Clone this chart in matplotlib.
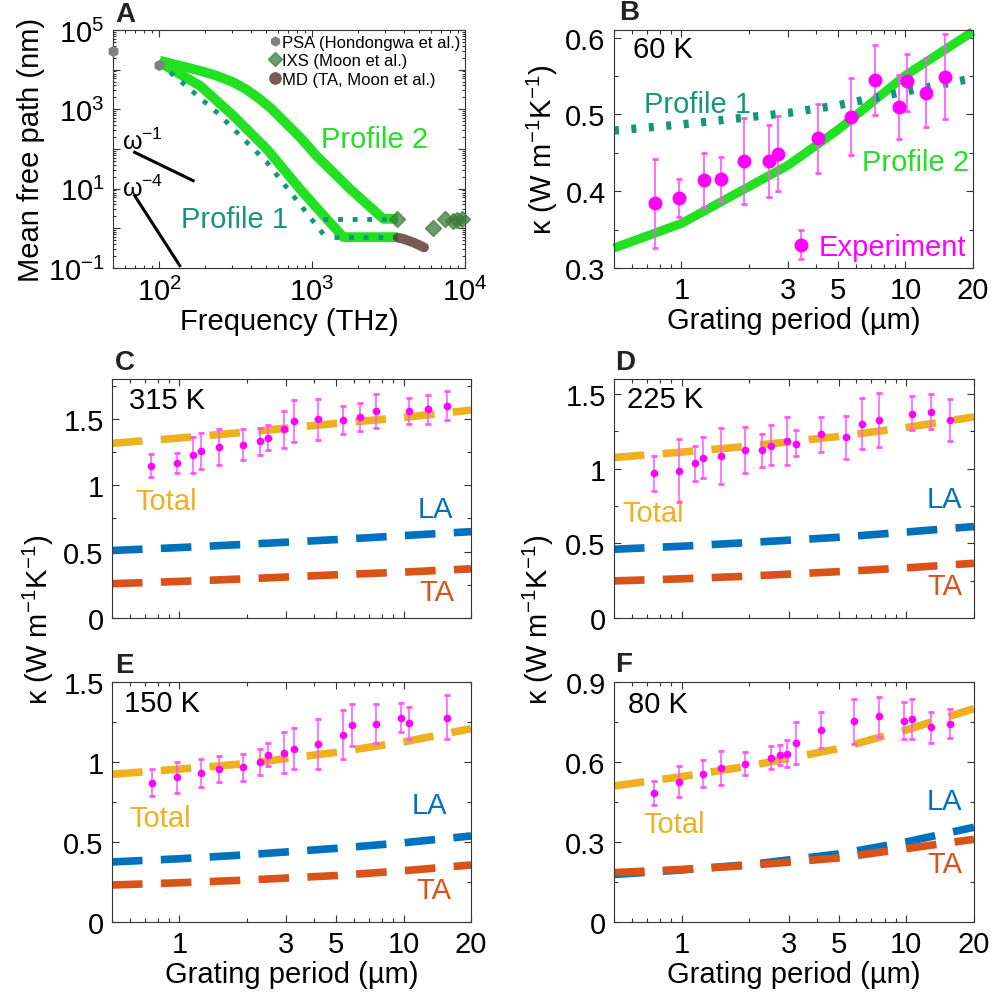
import matplotlib
matplotlib.use('Agg')
import matplotlib.pyplot as plt
from matplotlib.ticker import NullFormatter, FixedLocator, LogLocator, FixedFormatter
import numpy as np

plt.rcParams['font.family'] = ['Liberation Sans', 'DejaVu Sans']
plt.rcParams['mathtext.fontset'] = 'custom'
plt.rcParams['mathtext.rm'] = 'Liberation Sans'
plt.rcParams['mathtext.it'] = 'Liberation Sans:italic'
plt.rcParams['font.size'] = 21
plt.rcParams['axes.linewidth'] = 0.8
plt.rcParams['axes.edgecolor'] = '#333333'

# ---- colours
GREEN = '#22e022'
TEAL = '#13977a'
ORANGE = '#EDB120'
BLUE = '#0072BD'
RED = '#D95319'
MAG = '#ff00ff'

# ---- panel A: mean free path vs frequency
psa_f = [50, 100]
psa_mfp = [3.0e4, 1.3e4]
ixs_f = [3600, 6200, 7400, 8300, 8900, 9500]
ixs_mfp = [1.7, 1.0, 1.7, 1.5, 1.6, 1.7]
md_f = [3650, 3900, 4200, 4600, 5000, 5400]
md_mfp = [0.58, 0.55, 0.50, 0.44, 0.38, 0.33]
prof2_f = [101, 185, 238, 306, 374, 457, 545, 649, 835, 1070, 1770, 2925, 3650]
prof2_mfp = [1.69e4, 9.4e3, 7.06e3, 4.8e3, 3.13e3, 1.8e3, 1.02e3, 519, 198, 67, 9.9, 1.73, 1.73]
prof1_f = [101, 185, 306, 506, 832, 1247, 1603, 3650]
prof1_mfp = [1.53e4, 3.95e3, 690, 100, 9.9, 1.73, 0.6, 0.6]
dot_f = [100, 238, 506, 1250]
dot_mfp = [1.5e4, 845, 46.6, 0.55]
dot_hi_f = [1186, 3555]
dot_hi_mfp = [1.73, 1.73]
dot_lo_f = [1400, 3555]
dot_lo_mfp = [0.6, 0.6]
w1_f = [69.3, 167]
w1_mfp = [82.4, 15.9]
w4_f = [69.3, 136.5]
w4_mfp = [6.67, 0.115]

# ---- panel B: 60 K
b_x = [0.76, 0.98, 1.26, 1.5, 1.9, 2.46, 2.7, 4.05, 5.7, 7.3, 9.4, 10.2, 12.4, 15.0]
b_y = [0.385, 0.391, 0.414, 0.416, 0.439, 0.439, 0.449, 0.469, 0.497, 0.545, 0.510, 0.543, 0.528, 0.549]
b_hi = [0.442, 0.4165, 0.450, 0.445, 0.496, 0.486, 0.498, 0.514, 0.548, 0.590, 0.552, 0.579, 0.573, 0.605]
b_lo = [0.326, 0.366, 0.379, 0.387, 0.384, 0.393, 0.400, 0.424, 0.447, 0.499, 0.468, 0.504, 0.484, 0.494]
b_fit_x = [0.5, 1, 3, 5, 10, 20]
b_prof2 = [0.326, 0.358, 0.434, 0.480, 0.551, 0.608]
b_prof1 = [0.479, 0.487, 0.502, 0.512, 0.530, 0.547]

# ---- panels C-F: kappa vs grating period
fit_x = [0.5, 1, 2, 5, 10, 20]

c_x = [0.75, 0.98, 1.155, 1.25, 1.5, 1.92, 2.29, 2.49, 2.93, 3.23, 4.15, 5.38, 6.37, 7.52, 10.6, 12.9, 15.7]
c_y = [1.148, 1.168, 1.228, 1.258, 1.285, 1.305, 1.33, 1.358, 1.42, 1.483, 1.495, 1.49, 1.513, 1.558, 1.558, 1.57, 1.595]
c_hi = [1.238, 1.245, 1.363, 1.393, 1.42, 1.425, 1.43, 1.453, 1.558, 1.643, 1.65, 1.595, 1.62, 1.69, 1.655, 1.68, 1.708]
c_lo = [1.058, 1.09, 1.095, 1.125, 1.15, 1.188, 1.23, 1.263, 1.283, 1.328, 1.34, 1.388, 1.408, 1.43, 1.463, 1.463, 1.49]
c_total = [1.315, 1.355, 1.40, 1.465, 1.51, 1.565]
c_la = [0.508, 0.53, 0.555, 0.59, 0.62, 0.65]
c_ta = [0.258, 0.275, 0.295, 0.325, 0.345, 0.37]

d_x = [0.755, 0.976, 1.15, 1.25, 1.5, 1.92, 2.28, 2.49, 2.93, 3.23, 4.16, 5.38, 6.36, 7.55, 10.6, 12.9, 15.7]
d_y = [0.969, 0.987, 1.036, 1.071, 1.083, 1.121, 1.121, 1.154, 1.183, 1.167, 1.232, 1.208, 1.301, 1.324, 1.368, 1.377, 1.328]
d_hi = [1.085, 1.20, 1.152, 1.208, 1.27, 1.277, 1.23, 1.29, 1.342, 1.257, 1.348, 1.353, 1.473, 1.504, 1.487, 1.496, 1.469]
d_lo = [0.850, 0.779, 0.917, 0.9375, 0.895, 0.967, 1.013, 1.022, 1.025, 1.083, 1.114, 1.0625, 1.134, 1.145, 1.257, 1.268, 1.185]
d_total = [1.074, 1.11, 1.15, 1.215, 1.275, 1.346]
d_la = [0.46, 0.48, 0.505, 0.54, 0.575, 0.612]
d_ta = [0.248, 0.262, 0.28, 0.31, 0.335, 0.366]

e_x = [0.752, 0.98, 1.25, 1.5, 1.92, 2.29, 2.49, 2.93, 3.23, 4.15, 5.38, 5.86, 7.52, 9.77, 10.6, 15.7]
e_y = [0.869, 0.904, 0.931, 0.956, 0.967, 1.0, 1.046, 1.056, 1.083, 1.1125, 1.171, 1.233, 1.24, 1.277, 1.242, 1.277]
e_hi = [0.954, 1.002, 1.021, 1.0375, 1.052, 1.083, 1.119, 1.1875, 1.215, 1.269, 1.325, 1.365, 1.365, 1.371, 1.344, 1.417]
e_lo = [0.785, 0.806, 0.844, 0.877, 0.881, 0.919, 0.975, 0.929, 0.954, 0.954, 1.019, 1.102, 1.117, 1.19, 1.144, 1.144]
e_total = [0.923, 0.955, 0.99, 1.06, 1.125, 1.208]
e_la = [0.375, 0.395, 0.42, 0.46, 0.495, 0.5375]
e_ta = [0.231, 0.245, 0.262, 0.29, 0.32, 0.356]

f_x = [0.755, 0.976, 1.25, 1.5, 1.92, 2.49, 2.74, 2.93, 3.23, 4.16, 5.86, 7.55, 9.8, 10.6, 12.9, 15.7]
f_y = [0.485, 0.526, 0.556, 0.5775, 0.594, 0.616, 0.626, 0.631, 0.67, 0.719, 0.7525, 0.771, 0.755, 0.76, 0.73, 0.744]
f_hi = [0.53, 0.584, 0.606, 0.641, 0.6375, 0.659, 0.664, 0.6825, 0.75, 0.786, 0.835, 0.845, 0.826, 0.835, 0.7875, 0.7975]
f_lo = [0.44, 0.469, 0.505, 0.514, 0.55, 0.574, 0.589, 0.58, 0.591, 0.6525, 0.669, 0.695, 0.685, 0.6875, 0.6725, 0.689]
f_total = [0.51, 0.545, 0.585, 0.65, 0.72, 0.80]
f_la = [0.178, 0.195, 0.215, 0.255, 0.30, 0.355]
f_ta = [0.185, 0.197, 0.212, 0.24, 0.275, 0.31]

fig = plt.figure(figsize=(9.93, 10.03), dpi=100)


def style(ax):
    ax.tick_params(which='both', direction='in', top=True, right=True, width=0.8,
                   colors='#333333', labelcolor='black')
    ax.tick_params(which='major', length=5, pad=6)
    ax.tick_params(which='minor', length=3)


def gp_axis(ax, labels=True):
    ax.set_xscale('log')
    ax.set_xlim(0.5, 20)
    ax.xaxis.set_major_locator(FixedLocator([1, 3, 5, 10, 20]))
    ax.xaxis.set_minor_locator(LogLocator(base=10, subs=np.arange(2, 10), numticks=20))
    ax.xaxis.set_minor_formatter(NullFormatter())
    if labels:
        ax.xaxis.set_major_formatter(FixedFormatter(['1', '3', '5', '10', '20']))
        ax.set_xlabel('Grating period (µm)', labelpad=1)
    else:
        ax.xaxis.set_major_formatter(NullFormatter())


# ---------------- A
axA = fig.add_axes([0.1138, 0.7318, 0.3545, 0.2373])
axA.set_xscale('log')
axA.set_yscale('log')
axA.plot(prof2_f, prof2_mfp, color=GREEN, lw=7, solid_capstyle='butt', solid_joinstyle='round', zorder=2)
axA.plot(prof1_f, prof1_mfp, color=GREEN, lw=7, solid_capstyle='butt', solid_joinstyle='round', zorder=2)
dots = dict(color=TEAL, lw=3.5, linestyle=(0, (1.0, 2.0)), dash_capstyle='butt', zorder=3)
axA.plot(dot_f, dot_mfp, **dots)
axA.plot(dot_hi_f, dot_hi_mfp, **dots)
axA.plot(dot_lo_f, dot_lo_mfp, **dots)
axA.plot(w1_f, w1_mfp, color='black', lw=2.2)
axA.plot(w4_f, w4_mfp, color='black', lw=2.2)
axA.plot(psa_f, psa_mfp, 'h', color='#808080', ms=7, ls='none', clip_on=False, zorder=5,
         label='PSA (Hondongwa et al.)')
axA.plot(ixs_f, ixs_mfp, 'D', color='#3b7b3b', ms=8, alpha=0.75, ls='none', clip_on=False, zorder=5,
         label='IXS (Moon et al.)')
axA.plot(md_f, md_mfp, color='#5e3f3a', lw=7, alpha=0.85, solid_capstyle='round', zorder=5)
axA.plot([], [], 'o', color='#7a5a55', ms=9, ls='none', label='MD (TA, Moon et al.)')
axA.text(57, 162, 'ω$^{-1}$', fontsize=18, va='center')
axA.text(57, 10.7, 'ω$^{-4}$', fontsize=18, va='center')
axA.text(1150, 178, 'Profile 2', color=GREEN, va='center')
axA.text(140, 1.72, 'Profile 1', color=TEAL, va='center')
axA.set_xlim(50, 1e4)
axA.set_ylim(1e-1, 1e5)
axA.yaxis.set_major_locator(FixedLocator([1e-1, 1e0, 1e1, 1e2, 1e3, 1e4, 1e5]))
axA.yaxis.set_major_formatter(FixedFormatter(['$10^{-1}$', '', '$10^{1}$', '', '$10^{3}$', '', '$10^{5}$']))
axA.yaxis.set_minor_locator(LogLocator(base=10, subs=np.arange(2, 10), numticks=20))
axA.yaxis.set_minor_formatter(NullFormatter())
axA.xaxis.set_major_locator(FixedLocator([1e2, 1e3, 1e4]))
axA.xaxis.set_major_formatter(FixedFormatter(['$10^{2}$', '$10^{3}$', '$10^{4}$']))
axA.xaxis.set_minor_locator(LogLocator(base=10, subs=np.arange(2, 10), numticks=20))
axA.xaxis.set_minor_formatter(NullFormatter())
style(axA)
axA.tick_params(which='minor', length=2)
axA.set_xlabel('Frequency (THz)', labelpad=1)
axA.set_ylabel('Mean free path (nm)', labelpad=2)
axA.legend(loc='upper right', fontsize=12, frameon=False, handlelength=0.5, handletextpad=0.15,
           labelspacing=0.2, borderaxespad=0.1, borderpad=0.2, markerscale=0.9)

# ---------------- B
axB = fig.add_axes([0.6183, 0.7318, 0.3615, 0.2373])
gp_axis(axB)
axB.plot(b_fit_x, b_prof2, color=GREEN, lw=6.5, solid_capstyle='butt', zorder=2, clip_on=False)
axB.plot(b_fit_x, b_prof1, color=TEAL, lw=6, linestyle=(0, (0.6, 1.5)), dash_capstyle='butt', zorder=2)
b_err = [np.subtract(b_y, b_lo), np.subtract(b_hi, b_y)]
eb = axB.errorbar(b_x, b_y, yerr=b_err, fmt='o', color=MAG, ecolor='#ff55ff', ms=9, elinewidth=1.2,
                  capsize=2.5, capthick=2, zorder=4)
axB.set_ylim(0.3, 0.61)
axB.set_yticks([0.3, 0.4, 0.5, 0.6])
axB.set_yticklabels(['0.3', '0.4', '0.5', '0.6'])
axB.yaxis.set_minor_locator(FixedLocator([0.35, 0.45, 0.55]))
style(axB)
axB.set_ylabel('κ (W m$^{-1}$K$^{-1}$)', labelpad=4)
axB.text(0.053, 0.92, '60 K', transform=axB.transAxes, va='center')
axB.text(0.68, 0.514, 'Profile 1', color=TEAL, va='center')
axB.text(6.4, 0.438, 'Profile 2', color=GREEN, va='center')
axB.legend([eb], ['Experiment'], loc='lower right', frameon=False, labelcolor=MAG,
           handlelength=0.6, handletextpad=0.3, borderaxespad=0.0, borderpad=0.25)

# ---------------- C-F
panels = [
    ([0.1128, 0.3829, 0.3615, 0.2383], c_x, c_y, c_hi, c_lo, c_total, c_la, c_ta, 1.8,
     [0, 0.5, 1, 1.5], ['0', '0.5', '1', '1.5'], [0.25, 0.75, 1.25, 1.75], '315 K',
     (0.047, 0.912), (0.064, 0.49), (0.95, 0.456), (0.955, 0.109), False),
    ([0.6183, 0.3829, 0.3625, 0.2383], d_x, d_y, d_hi, d_lo, d_total, d_la, d_ta, 1.6,
     [0, 0.5, 1, 1.5], ['0', '0.5', '1', '1.5'], [0.25, 0.75, 1.25], '225 K',
     (0.036, 0.916), (0.022, 0.44), (0.967, 0.498), (0.969, 0.134), False),
    ([0.1128, 0.0798, 0.3615, 0.2393], e_x, e_y, e_hi, e_lo, e_total, e_la, e_ta, 1.5,
     [0, 0.5, 1, 1.5], ['0', '0.5', '1', '1.5'], [0.25, 0.75, 1.25], '150 K',
     (0.033, 0.9125), (0.047, 0.433), (0.933, 0.4875), (0.944, 0.133), True),
    ([0.6183, 0.0798, 0.3625, 0.2393], f_x, f_y, f_hi, f_lo, f_total, f_la, f_ta, 0.9,
     [0, 0.3, 0.6, 0.9], ['0', '0.3', '0.6', '0.9'], [0.15, 0.45, 0.75], '80 K',
     (0.039, 0.908), (0.083, 0.408), (0.967, 0.504), (0.969, 0.242), True),
]
dash = (0, (4.0, 2.4))
for (pos, x, y, hi, lo, tot, la, ta, ytop, yt, ytl, ymin, temp,
     tpos, totpos, lapos, tapos, xl) in panels:
    ax = fig.add_axes(pos)
    gp_axis(ax, labels=xl)
    ax.plot(fit_x, tot, color=ORANGE, lw=5.5, linestyle=dash, dash_capstyle='butt', zorder=2)
    ax.plot(fit_x, la, color=BLUE, lw=5.5, linestyle=dash, dash_capstyle='butt', zorder=2)
    ax.plot(fit_x, ta, color=RED, lw=5.5, linestyle=dash, dash_capstyle='butt', zorder=2)
    err = [np.subtract(y, lo), np.subtract(hi, y)]
    ax.errorbar(x, y, yerr=err, fmt='o', color=MAG, ecolor='#ff55ff', ms=4.5, elinewidth=1.1,
                capsize=2, capthick=2, zorder=4)
    ax.set_ylim(0, ytop)
    ax.set_yticks(yt)
    ax.set_yticklabels(ytl)
    ax.yaxis.set_minor_locator(FixedLocator(ymin))
    style(ax)
    ax.text(tpos[0], tpos[1], temp, transform=ax.transAxes, va='center')
    ax.text(totpos[0], totpos[1], 'Total', color=ORANGE, transform=ax.transAxes, va='center')
    ax.text(lapos[0], lapos[1], 'LA', color=BLUE, transform=ax.transAxes, va='center', ha='right')
    ax.text(tapos[0], tapos[1], 'TA', color=RED, transform=ax.transAxes, va='center', ha='right')

fig.text(38 / 993, 1 - 620 / 1003, 'κ (W m$^{-1}$K$^{-1}$)', rotation=90, ha='center', va='center')
fig.text(538 / 993, 1 - 620 / 1003, 'κ (W m$^{-1}$K$^{-1}$)', rotation=90, ha='center', va='center')

# panel letters
for lab, px, py in [('A', 115, 15), ('B', 619, 13), ('C', 115, 363), ('D', 615, 363),
                    ('E', 115, 666), ('F', 615, 665)]:
    fig.text(px / 993, 1 - py / 1003, lab, fontsize=20, fontweight='bold', ha='left', va='center',
             color='#222222')

fig.savefig('out.png', dpi=100)
